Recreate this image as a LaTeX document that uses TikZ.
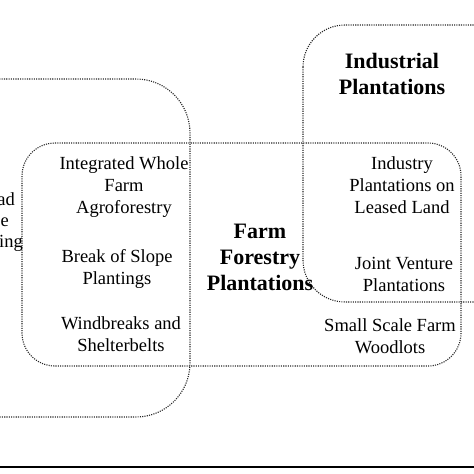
\documentclass[tikz,border=0pt]{standalone}
\usepackage{fontspec}
\setmainfont{Liberation Serif}
\tikzset{
    region/.style={draw=black!85, line width=1.1pt, dash pattern=on 1.1pt off 1.2pt},
    item/.style={align=center, font=\fontsize{18.5}{22}\selectfont},
    title/.style={align=center, font=\bfseries\fontsize{22}{26}\selectfont}
}
\begin{document}
\begin{tikzpicture}[x=1pt,y=-1pt]
    \useasboundingbox (0,0) rectangle (474,474);
    \begin{scope}
        \clip (0,0) rectangle (474,474);
        % Left group
        \draw[region, rounded corners=54pt] (-80,79) rectangle (190,417);
        % Farm forestry
        \draw[region, rounded corners=33pt] (22,143) rectangle (461,366);
        % Industrial
        \draw[region, rounded corners=42pt] (303,25) rectangle (540,302);
    \end{scope}

    % bottom rule
    \draw[line width=2pt] (0,467) -- (474,467);

    % Left group (cut off)
    \node[item, anchor=base east, inner sep=0pt] (ad) at (15,205) {ad};
    \node[item, anchor=base east, inner sep=0pt] (e) at (9,226) {e};
    \node[item, anchor=base east, inner sep=0pt] (ing) at (23,247) {ing};

    % Farm forestry
    \node[item] (whole) at (124,187) {Integrated Whole\\Farm\\Agroforestry};
    \node[item] (slope) at (117,269) {Break of Slope\\Plantings};
    \node[item] (wind) at (121,334) {Windbreaks and\\Shelterbelts};
    \node[title] (farm) at (260,257) {Farm\\Forestry\\Plantations};

    % Industrial
    \node[title] (indus) at (392,74) {Industrial\\Plantations};
    \node[item] (leased) at (402,185) {Industry\\Plantations on\\Leased Land};
    \node[item] (joint) at (404,274) {Joint Venture\\Plantations};
    \node[item] (small) at (390,336) {Small Scale Farm\\Woodlots};
\end{tikzpicture}
\end{document}
